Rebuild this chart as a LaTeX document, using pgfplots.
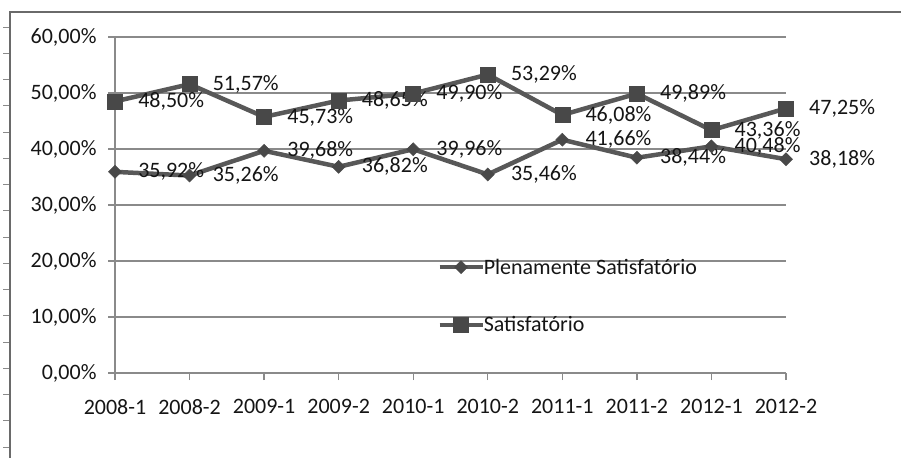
\documentclass[border=0pt]{standalone}
\usepackage{fontspec}
\setmainfont{Carlito}
\usepackage{pgfplots}
\pgfplotsset{compat=1.18}
\definecolor{serie}{HTML}{585858}
\definecolor{marca}{HTML}{484848}
\definecolor{grade}{HTML}{8A8A8A}
\definecolor{moldura}{HTML}{6A6A6A}
\definecolor{texto}{HTML}{151515}
\newcommand{\rotfont}{\fontsize{22bp}{26bp}\selectfont}

\begin{document}
\begin{tikzpicture}
\useasboundingbox (0bp,0bp) rectangle (901bp,458bp);
% chart frame and ruler marks on the left
\draw[moldura, line width=2.5bp] (10bp,0bp) -- (10bp,446bp) -- (901bp,446bp);
\foreach \k in {0,...,16} \draw[grade, line width=0.8bp] (3bp,{(431-\k*26.25)*1bp}) -- (9bp,{(431-\k*26.25)*1bp});

\begin{axis}[
  at={(115bp,85bp)}, anchor=south west,
  scale only axis, width=671bp, height=336bp,
  xmin=0, xmax=9, ymin=0, ymax=60,
  clip=false,
  axis x line*=bottom, axis y line*=left,
  axis line style={-, grade, line width=1.3bp},
  ymajorgrids, grid style={grade, line width=1.3bp},
  tick align=outside, major tick length=7bp,
  tick style={grade, line width=1.3bp},
  xtick={0,...,9},
  xticklabels={2008-1,2008-2,2009-1,2009-2,2010-1,2010-2,2011-1,2011-2,2012-1,2012-2},
  ytick={0,10,...,60},
  yticklabels={{0,00\%},{10,00\%},{20,00\%},{30,00\%},{40,00\%},{50,00\%},{60,00\%}},
  /pgf/number format/assume math mode=true,
  tick label style={font=\rotfont, text=texto},
  xticklabel style={yshift=-16bp},
  yticklabel style={xshift=-8bp},
  point meta=y,
  nodes near coords={\pgfmathprintnumber[use comma,fixed,fixed zerofill,precision=2]{\pgfplotspointmeta}\%},
  every node near coord/.append style={font=\rotfont, text=texto, anchor=west, inner sep=0pt, xshift=23bp},
  legend style={at={(axis cs:4.32,13.75)}, anchor=west, draw=none, fill=none,
    inner sep=0pt, font=\rotfont, text=texto, row sep=37bp, column sep=-3bp,
    cells={anchor=west}},
  legend image code/.code={\draw[mark repeat=2,mark phase=2] plot coordinates {(0bp,0bp) (21.5bp,0bp) (43bp,0bp)};},
]
\addplot[serie, line width=4.5bp, mark=square*, mark size=4.6bp,
  mark options={rotate=45, fill=marca, draw=marca, line width=0.5bp}]
  coordinates {(0,35.92) (1,35.26) (2,39.68) (3,36.82) (4,39.96)
               (5,35.46) (6,41.66) (7,38.44) (8,40.48) (9,38.18)};
\addlegendentry{Plenamente Satisfatório}
\addplot[serie, line width=4.5bp, mark=square*, mark size=7.5bp,
  mark options={fill=marca, draw=marca, line width=0.5bp}]
  coordinates {(0,48.50) (1,51.57) (2,45.73) (3,48.65) (4,49.90)
               (5,53.29) (6,46.08) (7,49.89) (8,43.36) (9,47.25)};
\addlegendentry{Satisfatório}
\end{axis}
\end{tikzpicture}
\end{document}
